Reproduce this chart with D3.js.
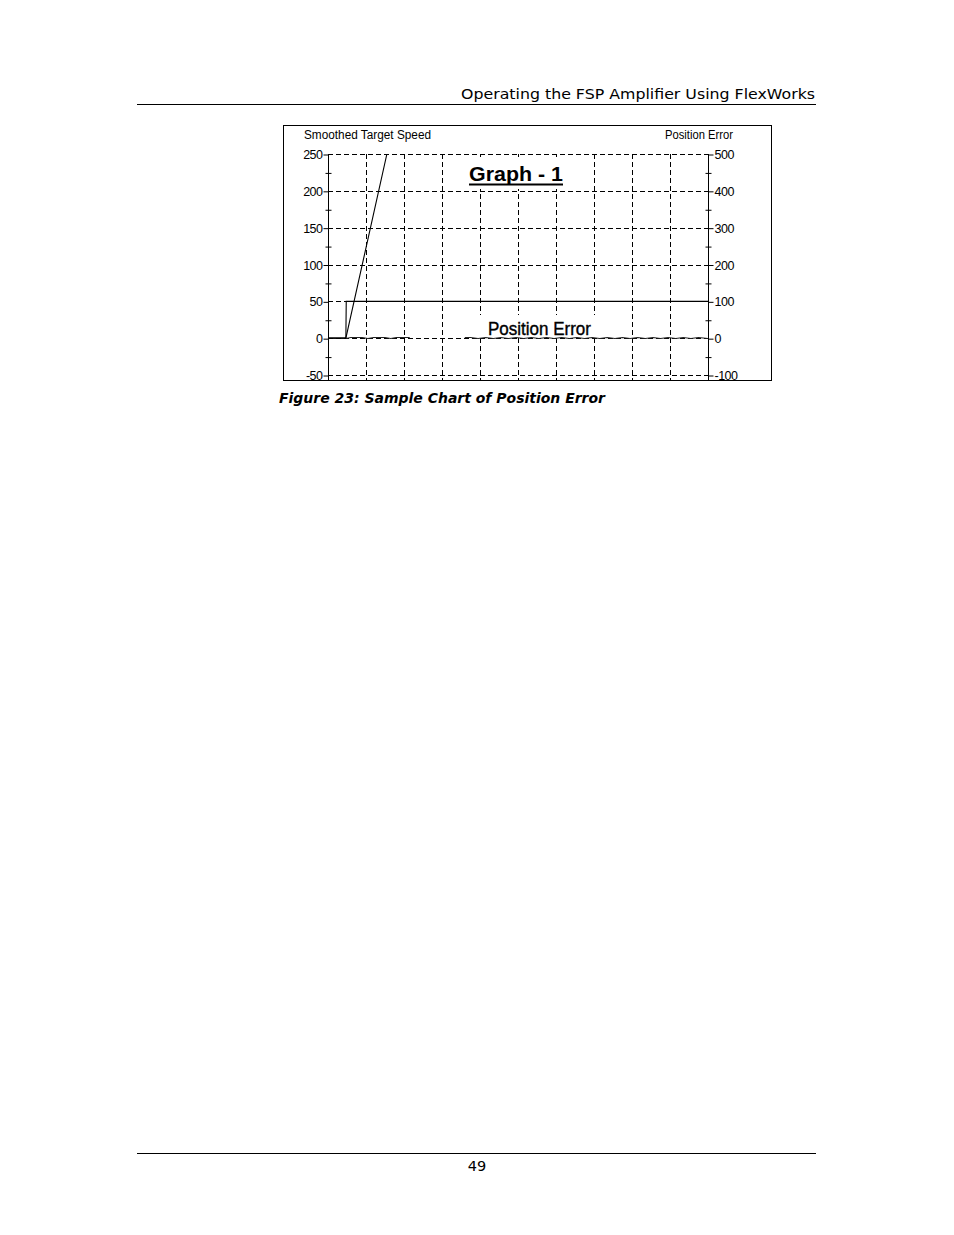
<!DOCTYPE html>
<html><head><meta charset="utf-8">
<script src="https://cdn.jsdelivr.net/npm/d3@7"></script>
<style>
html,body{margin:0;padding:0;background:#fff;}
svg{display:block;}
</style></head>
<body>
<script>
// ---- data ----
const xDomain = [0, 10];
const xGridTicks = [1,2,3,4,5,6,7,8,9];
const leftTicks = [-50, 0, 50, 100, 150, 200, 250];
const leftMinor = [-25, 25, 75, 125, 175, 225];
const rightTicks = [-100, 0, 100, 200, 300, 400, 500];
const rightMinor = [-50, 50, 150, 250, 350, 450];
// Smoothed Target Speed (left axis)
const speedT = [0, 0.47, 1.55, 1.75];
const speedV = [0, 0, 250, 296];
// Speed command step (left axis)
const stepT = [0, 0.47, 0.48, 10];
const stepV = [0, 0, 50, 50];
// Position Error (right axis), null = gap
const errT = [0.47, 0.6, 0.75, 0.9, 1.05, 1.2, 1.35, 1.5, 1.65, 1.8, 1.95, 2.15, 2.16,
  3.6, 3.75, 3.95, 4.15, 4.35, 4.55, 4.75, 4.95, 5.15, 5.35, 5.55, 5.75, 5.95, 6.15, 6.35, 6.55,
  6.75, 6.95, 7.15, 7.35, 7.55, 7.75, 7.95, 8.15, 8.35, 8.55, 8.75, 8.95, 9.15, 9.35, 9.55, 9.75, 10];
const errV = [0, 3, 2, 3, 1, 3, 2, 3, 1, 2, 3, 2, null,
  3, 3, 0, 2, 0, 3, 1, 3, 0, 3, 1, 3, 0, 3, 0, 3,
  0, 3, 0, 3, 0, 3, 0, 3, 0, 3, 0, 3, 0, 3, 0, 3, 0];

const W = 954, H = 1235;
const svg = d3.select("body").append("svg").attr("width", W).attr("height", H);

// page header/footer
svg.append("text").attr("x", 815).attr("y", 99).attr("text-anchor", "end")
  .attr("font-family", "DejaVu Sans, Verdana, sans-serif").attr("font-size", 14.5)
  .attr("textLength", 354).attr("lengthAdjust", "spacingAndGlyphs")
  .text("Operating the FSP Amplifier Using FlexWorks");
svg.append("line").attr("x1", 137).attr("x2", 816).attr("y1", 104.5).attr("y2", 104.5)
  .attr("stroke", "#000").attr("stroke-width", 1);
svg.append("line").attr("x1", 137).attr("x2", 816).attr("y1", 1153.5).attr("y2", 1153.5)
  .attr("stroke", "#000").attr("stroke-width", 1);
svg.append("text").attr("x", 477).attr("y", 1171).attr("text-anchor", "middle")
  .attr("font-family", "DejaVu Sans, Verdana, sans-serif").attr("font-size", 14.5).text("49");

// caption
svg.append("text").attr("x", 279).attr("y", 403)
  .attr("font-family", "DejaVu Sans, Verdana, sans-serif").attr("font-size", 14)
  .attr("font-weight", "bold").attr("font-style", "italic")
  .attr("textLength", 326).attr("lengthAdjust", "spacingAndGlyphs")
  .text("Figure 23: Sample Chart of Position Error");

// chart frame
svg.append("rect").attr("x", 283.5).attr("y", 125.5).attr("width", 488).attr("height", 255)
  .attr("fill", "#fff").attr("stroke", "#000").attr("stroke-width", 1);

const x = d3.scaleLinear().domain(xDomain).range([328, 708]);
const yL = d3.scaleLinear().domain([-50, 250]).range([375, 154]);
const yR = d3.scaleLinear().domain([-100, 500]).range([375, 154]);

const font = "Liberation Sans, Arial, sans-serif";
const dash = "5,3";
const fmt = d => String(d);

// grid
const g = svg.append("g");
g.selectAll("line.h").data(leftTicks).join("line")
  .attr("x1", x(0)).attr("x2", x(10))
  .attr("y1", d => Math.round(yL(d)) + 0.5).attr("y2", d => Math.round(yL(d)) + 0.5)
  .attr("stroke", "#000").attr("stroke-width", 1).attr("stroke-dasharray", dash);
g.selectAll("line.v").data(xGridTicks).join("line")
  .attr("x1", d => Math.round(x(d)) + 0.5).attr("x2", d => Math.round(x(d)) + 0.5)
  .attr("y1", yL(250)).attr("y2", 380)
  .attr("stroke", "#000").attr("stroke-width", 1).attr("stroke-dasharray", dash);

// white label boxes over grid
svg.append("rect").attr("x", 452).attr("y", 157).attr("width", 128).attr("height", 32).attr("fill", "#fff");
svg.append("rect").attr("x", 478).attr("y", 315).attr("width", 120).attr("height", 21).attr("fill", "#fff");

// axes
const styleAxis = sel => {
  sel.select(".domain").remove();
  sel.selectAll("text").attr("font-family", font).attr("font-size", 12.5).attr("fill", "#000")
    .attr("letter-spacing", "-0.5px");
  sel.selectAll("line").attr("stroke", "#000");
};
const axL = svg.append("g").attr("transform", "translate(328.5,0.5)")
  .call(d3.axisLeft(yL).tickValues(leftTicks).tickSize(5).tickPadding(1).tickFormat(fmt));
styleAxis(axL);
const axLm = svg.append("g").attr("transform", "translate(331.5,0.5)")
  .call(d3.axisLeft(yL).tickValues(leftMinor).tickSize(6).tickFormat(""));
styleAxis(axLm);
const axR = svg.append("g").attr("transform", "translate(708.5,0.5)")
  .call(d3.axisRight(yR).tickValues(rightTicks).tickSize(5).tickPadding(1).tickFormat(fmt));
styleAxis(axR);
const axRm = svg.append("g").attr("transform", "translate(705.5,0.5)")
  .call(d3.axisRight(yR).tickValues(rightMinor).tickSize(6).tickFormat(""));
styleAxis(axRm);
// axis lines
svg.append("line").attr("x1", 328.5).attr("x2", 328.5).attr("y1", yL(250)).attr("y2", 380)
  .attr("stroke", "#000");
svg.append("line").attr("x1", 708.5).attr("x2", 708.5).attr("y1", yL(250)).attr("y2", 380)
  .attr("stroke", "#000");

// axis titles
svg.append("text").attr("x", 304).attr("y", 139).attr("font-family", font).attr("font-size", 12.5)
  .attr("textLength", 127).attr("lengthAdjust", "spacingAndGlyphs").text("Smoothed Target Speed");
svg.append("text").attr("x", 665).attr("y", 139).attr("font-family", font)
  .attr("font-size", 12.5).attr("textLength", 68).attr("lengthAdjust", "spacingAndGlyphs").text("Position Error");

// clip
svg.append("clipPath").attr("id", "plot").append("rect")
  .attr("x", x(0)).attr("y", yL(250)).attr("width", x(10) - x(0)).attr("height", yL(-50) - yL(250));
const plot = svg.append("g").attr("clip-path", "url(#plot)");

const lineL = d3.line().defined(d => d[1] !== null).x(d => x(d[0])).y(d => yL(d[1]));
const lineR = d3.line().defined(d => d[1] !== null).x(d => x(d[0])).y(d => Math.round(yR(d[1])) + 0.5);

plot.append("path").datum(stepT.map((t, i) => [t, stepV[i]])).attr("d", lineL)
  .attr("fill", "none").attr("stroke", "#000").attr("stroke-width", 1.1);
plot.append("path").datum(errT.map((t, i) => [t, errV[i]])).attr("d", lineR)
  .attr("fill", "none").attr("stroke", "#222").attr("stroke-width", 1.2);
plot.append("path").datum(speedT.map((t, i) => [t, speedV[i]])).attr("d", lineL)
  .attr("fill", "none").attr("stroke", "#000").attr("stroke-width", 1.1);

// in-chart labels
svg.append("text").attr("x", 469).attr("y", 181)
  .attr("font-family", font).attr("font-size", 20).attr("font-weight", "bold")
  .attr("textLength", 94).attr("lengthAdjust", "spacingAndGlyphs").text("Graph - 1");
svg.append("line").attr("x1", 469).attr("x2", 563).attr("y1", 184.5).attr("y2", 184.5)
  .attr("stroke", "#000").attr("stroke-width", 2);
svg.append("text").attr("x", 488).attr("y", 335)
  .attr("font-family", font).attr("font-size", 19).attr("stroke", "#000").attr("stroke-width", 0.4)
  .attr("textLength", 103).attr("lengthAdjust", "spacingAndGlyphs").text("Position Error");
</script>
</body></html>
